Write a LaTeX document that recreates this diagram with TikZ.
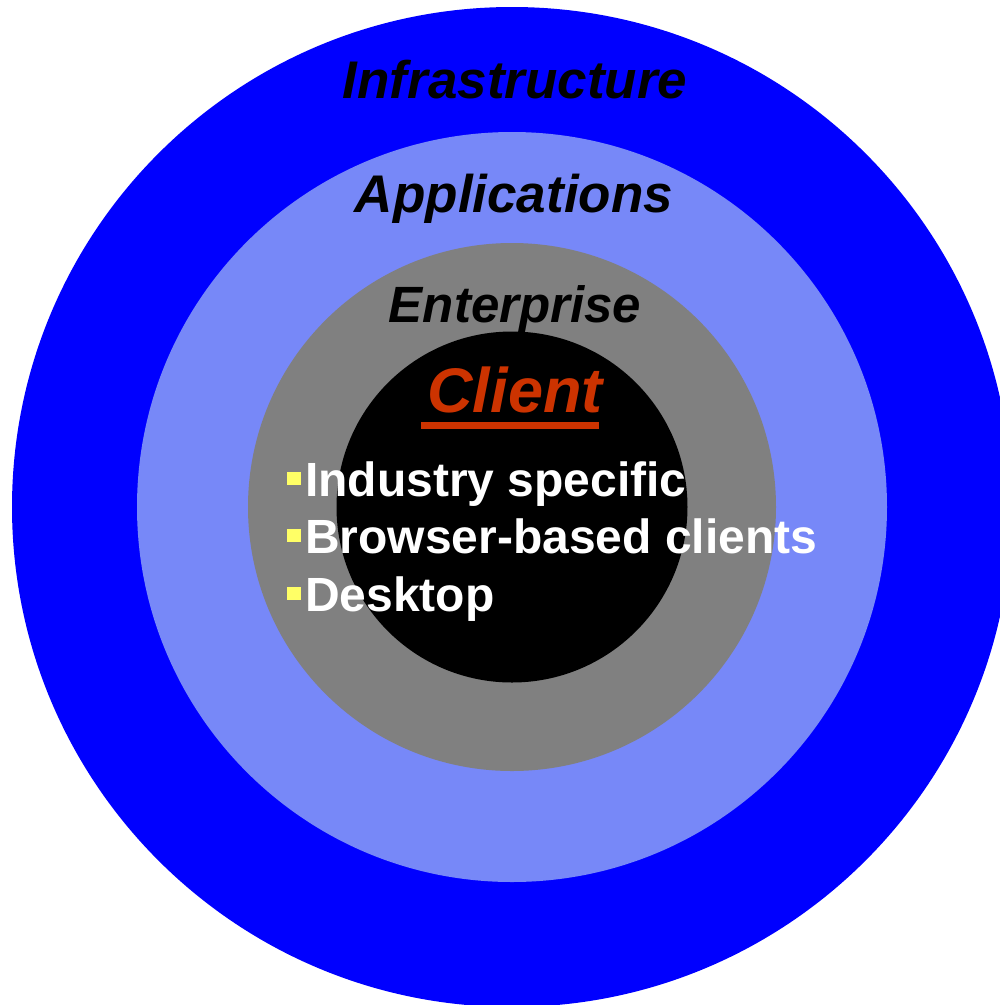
\documentclass[tikz,border=0pt]{standalone}
\usepackage{fontspec}
\setmainfont{Liberation Sans}
\usetikzlibrary{calc}
\definecolor{outerblue}{RGB}{0,0,255}
\definecolor{lightblue}{RGB}{119,136,248}
\definecolor{midgray}{RGB}{128,128,128}
\definecolor{clientred}{RGB}{204,51,0}
\definecolor{bulletyellow}{RGB}{255,255,102}
\tikzset{
  ring/.style={circle, inner sep=0pt, draw=none},
  ringlabel/.style={anchor=base, inner sep=0pt, text=black, font=\fontsize{53}{60}\selectfont\bfseries\itshape},
  itemtext/.style={anchor=base west, inner sep=0pt, text=white, font=\fontsize{48}{56}\selectfont\bfseries},
  bulletbox/.style={fill=bulletyellow}
}
\begin{document}
\begin{tikzpicture}[x=1pt,y=-1pt]
\useasboundingbox (0,0) rectangle (1000,1005);
\clip (0,0) rectangle (1000,1005);
\node[ring, fill=outerblue, minimum size=1000pt] (infra) at (512,507) {};
\node[ring, fill=lightblue, minimum size=750pt] (apps) at (512,507) {};
\node[ring, fill=midgray, minimum size=528pt] (ent) at (512,507) {};
\node[ring, fill=black, minimum size=351pt] (cli) at (512,507) {};

\node[ringlabel] (infralbl) at (515,98) {Infrastructure};
\node[ringlabel] (appslbl) at (514,212) {Applications};
\node[ringlabel, font=\fontsize{51}{60}\selectfont\bfseries\itshape] (entlbl) at (515,322) {Enterprise};
\node[anchor=base, inner sep=0pt, text=clientred, font=\fontsize{63}{70}\selectfont\bfseries\itshape] (clilbl) at (515,412) {Client};
\fill[clientred] ($(clilbl.base west)+(-6,10)$) rectangle ($(clilbl.base east)+(-4,17)$);

\node[itemtext] (item1) at (305,496) {Industry specific};
\node[itemtext] (item2) at (305,553) {Browser-based clients};
\node[itemtext] (item3) at (305,611) {Desktop};
\foreach \n in {1,2,3}{
  \fill[bulletbox] ($(item\n.base west)+(-18,-24)$) rectangle ($(item\n.base west)+(-4,-11)$);
}
\end{tikzpicture}
\end{document}
